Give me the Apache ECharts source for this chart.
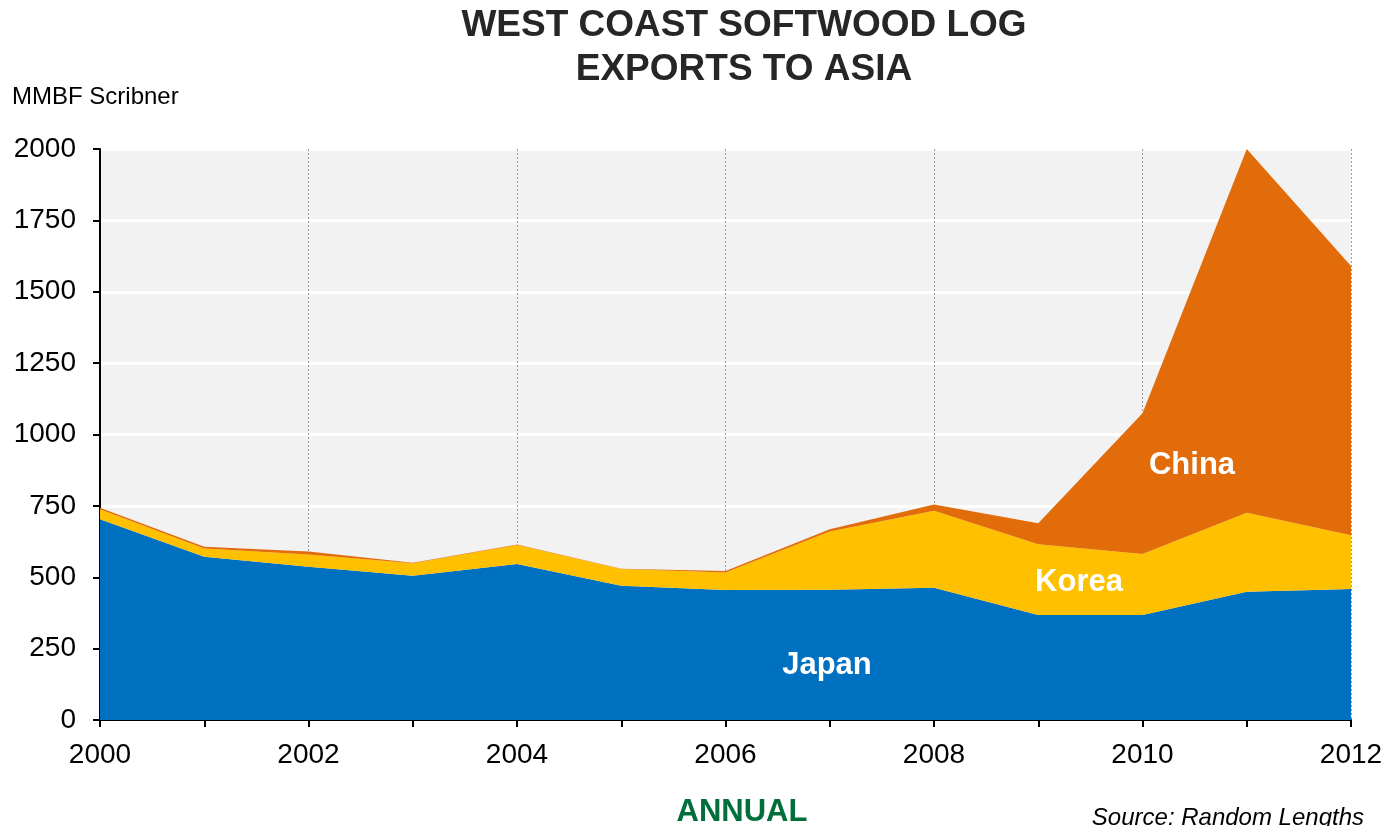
<!DOCTYPE html>
<html><head><meta charset="utf-8">
<script src="https://cdn.jsdelivr.net/npm/echarts@6/dist/echarts.min.js"></script>
<style>html,body{margin:0;padding:0;background:#fff;}#c{width:1389px;height:826px;}</style>
</head><body><div id="c"></div>
<script>
const years = ['2000','2001','2002','2003','2004','2005','2006','2007','2008','2009','2010','2011','2012'];
const japan = [703, 572, 537, 505, 546, 470, 455, 456, 463, 368, 368, 449, 459];
const korea = [35, 29, 43, 44, 67, 59, 62, 204, 270, 248, 213, 277, 188];
const china = [5, 6, 10, 2, 2, 1, 5, 8, 22, 73, 493, 1274, 943];
const yTicks = {min: 0, max: 2000, interval: 250};

const font = '"Liberation Sans", Arial, sans-serif';
const chart = echarts.init(document.getElementById('c'), null, {renderer: 'canvas'});
function area(name, data, color) {
  return {
    name, type: 'line', stack: 'total', data, symbol: 'none', smooth: false,
    lineStyle: {width: 0}, areaStyle: {color: color, opacity: 1}, itemStyle: {color: color},
    emphasis: {disabled: true}
  };
}
chart.setOption({
  animation: false,
  backgroundColor: '#fff',
  grid: {left: 100, right: 38, top: 149, bottom: 106, show: true, backgroundColor: '#F2F2F2', borderWidth: 0},
  xAxis: {
    type: 'category', data: years, boundaryGap: false,
    axisLine: {lineStyle: {color: '#000', width: 2}},
    axisTick: {show: true, interval: 0, length: 7, lineStyle: {color: '#000', width: 2}},
    axisLabel: {interval: 1, color: '#000', fontSize: 28, fontFamily: font, margin: 21},
    splitLine: {show: true, interval: function (i) { return i > 0 && i % 2 === 0; }, lineStyle: {color: '#9a9a9a', width: 1, type: [2, 2]}}
  },
  yAxis: {
    type: 'value', min: yTicks.min, max: yTicks.max, interval: yTicks.interval,
    axisLine: {show: true, lineStyle: {color: '#000', width: 2}},
    axisTick: {show: true, length: 7, lineStyle: {color: '#000', width: 2}},
    axisLabel: {color: '#000', fontSize: 28, fontFamily: font, margin: 24, formatter: function (v) { return String(v); }},
    splitLine: {show: true, lineStyle: {color: '#fff', width: 3}}
  },
  series: [
    area('Japan', japan, '#0070C0'),
    area('Korea', korea, '#FFC000'),
    area('China', china, '#E36C0A')
  ],
  graphic: [
    {type: 'text', z: 100, x: 744, y: 4, style: {text: 'WEST COAST SOFTWOOD LOG\nEXPORTS TO ASIA', font: 'bold 37px ' + font, fill: '#262626', align: 'center', lineHeight: 44}},
    {type: 'text', z: 100, left: 12, top: 85, style: {text: 'MMBF Scribner', font: '24px ' + font, fill: '#000'}},
    {type: 'text', z: 100, x: 1192, y: 465, style: {text: 'China', font: 'bold 31px ' + font, fill: '#fff', align: 'center', verticalAlign: 'middle'}},
    {type: 'text', z: 100, x: 1079, y: 582, style: {text: 'Korea', font: 'bold 31px ' + font, fill: '#fff', align: 'center', verticalAlign: 'middle'}},
    {type: 'text', z: 100, x: 827, y: 665, style: {text: 'Japan', font: 'bold 31px ' + font, fill: '#fff', align: 'center', verticalAlign: 'middle'}},
    {type: 'text', z: 100, x: 742, y: 812, style: {text: 'ANNUAL', font: 'bold 31px ' + font, fill: '#006F3C', align: 'center', verticalAlign: 'middle'}},
    {type: 'text', z: 100, x: 1364, y: 818, style: {text: 'Source: Random Lengths', font: 'italic 24px ' + font, fill: '#000', align: 'right', verticalAlign: 'middle'}}
  ]
});
</script></body></html>
